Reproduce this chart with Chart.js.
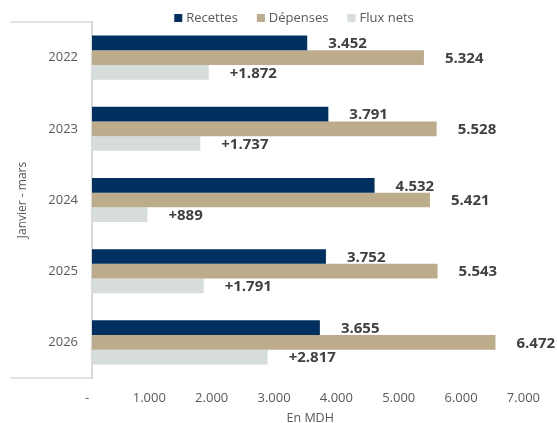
<!DOCTYPE html>
<html>
<head>
<meta charset="utf-8">
<script src="https://cdn.jsdelivr.net/npm/chart.js@4.4.1/dist/chart.umd.min.js"></script>
<style>
    html, body { margin: 0; padding: 0; background: #fff; }
    #wrap { width: 557px; height: 423px; }
</style>
</head>
<body>
<div id="wrap"><canvas id="chart" width="557" height="423"></canvas></div>
<script>
const years = ['2022', '2023', '2024', '2025', '2026'];
const recettes = [3452, 3791, 4532, 3752, 3655];
const depenses = [5324, 5528, 5421, 5543, 6472];
const fluxNets = [1872, 1737, 889, 1791, 2817];
const seriesNames = ['Recettes', 'Dépenses', 'Flux nets'];
const labelPrefix = ['', '', '+'];
const xTicks = [0, 1000, 2000, 3000, 4000, 5000, 6000, 7000];

const FONT = '"Open Sans", "Noto Sans", sans-serif';
const colors = ['#00305f', '#bcac8c', '#d7dcdc'];

function fmt(v) {
    return String(v).replace(/\B(?=(\d{3})+(?!\d))/g, '.');
}

// value labels at the end of each bar
const valueLabels = {
    id: 'valueLabels',
    afterDatasetsDraw(chart) {
        const ctx = chart.ctx;
        ctx.save();
        ctx.font = 'bold 15px ' + FONT;
        ctx.fillStyle = '#404040';
        ctx.textAlign = 'left';
        ctx.textBaseline = 'middle';
        chart.data.datasets.forEach((ds, i) => {
            chart.getDatasetMeta(i).data.forEach((el, j) => {
                ctx.fillText(labelPrefix[i] + fmt(ds.data[j]), el.x + 21, el.y + 1);
            });
        });
        ctx.restore();
    }
};

// short frame lines left of the category axis + legend
const frame = {
    id: 'frame',
    afterDraw(chart) {
        const ctx = chart.ctx;
        const a = chart.chartArea;
        ctx.save();
        ctx.strokeStyle = '#d9d9d9';
        ctx.lineWidth = 1.5;
        ctx.beginPath();
        ctx.moveTo(10, a.top);
        ctx.lineTo(a.left, a.top);
        ctx.moveTo(10, a.bottom);
        ctx.lineTo(a.left, a.bottom);
        ctx.stroke();

        // legend
        ctx.font = '13px ' + FONT;
        ctx.textBaseline = 'middle';
        const box = 8, gap = 4, space = 19;
        const widths = chart.data.datasets.map(d => box + gap + ctx.measureText(d.label).width);
        const total = widths.reduce((s, w) => s + w, 0) + space * (widths.length - 1);
        let x = 294 - total / 2;
        const y = 18;
        chart.data.datasets.forEach((d, i) => {
            ctx.fillStyle = d.backgroundColor;
            ctx.fillRect(x, y - box / 2, box, box);
            ctx.fillStyle = '#595959';
            ctx.fillText(d.label, x + box + gap, y);
            x += widths[i] + space;
        });
        ctx.restore();
    }
};

new Chart(document.getElementById('chart'), {
    type: 'bar',
    data: {
        labels: years,
        datasets: [recettes, depenses, fluxNets].map((values, i) => ({
            label: seriesNames[i],
            data: values,
            backgroundColor: colors[i],
            borderWidth: 0,
            categoryPercentage: 0.62,
            barPercentage: 1.0
        }))
    },
    options: {
        indexAxis: 'y',
        responsive: false,
        animation: false,
        layout: { padding: { top: 22, right: 28, left: 0, bottom: 0 } },
        plugins: {
            legend: { display: false },
            tooltip: { enabled: false }
        },
        scales: {
            x: {
                min: 0,
                max: 7000,
                afterBuildTicks: scale => { scale.ticks = xTicks.map(v => ({ value: v })); },
                afterFit: scale => { scale.height = 45; },
                grid: { display: false, drawTicks: false },
                border: { display: false },
                ticks: {
                    color: '#595959',
                    font: { family: FONT, size: 13 },
                    padding: 12,
                    labelOffset: -5,
                    callback: v => v === 0 ? '-' : fmt(v)
                },
                title: {
                    display: true,
                    text: 'En MDH',
                    color: '#595959',
                    font: { family: FONT, size: 12.5 },
                    padding: { top: 0, bottom: -3 }
                }
            },
            y: {
                afterFit: scale => { scale.width = 92; },
                grid: { display: false, drawTicks: false },
                border: { display: true, color: '#d9d9d9', width: 2 },
                ticks: {
                    color: '#595959',
                    font: { family: FONT, size: 13 },
                    padding: 14
                },
                title: {
                    display: true,
                    text: 'Janvier - mars',
                    color: '#595959',
                    font: { family: FONT, size: 12 },
                    padding: { top: 15, bottom: 0 }
                }
            }
        }
    },
    plugins: [valueLabels, frame]
});
</script>
</body>
</html>
